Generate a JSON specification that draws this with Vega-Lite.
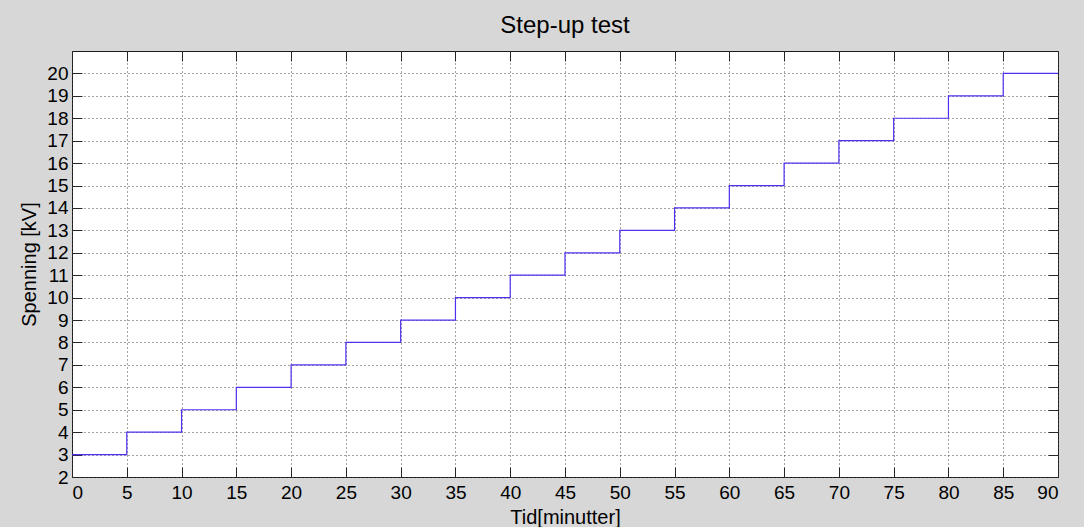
{
  "$schema": "https://vega.github.io/schema/vega-lite/v6.json",
  "width": 986,
  "height": 426,
  "autosize": {"type": "none"},
  "padding": {"left": 72, "top": 51, "right": 26, "bottom": 50},
  "background": "#d7d7d7",
  "title": {"text": "Step-up test", "fontSize": 24, "font": "Liberation Sans", "fontWeight": "normal", "color": "#000000", "offset": 13, "anchor": "middle"},
  "config": {
    "view": {"fill": "white", "stroke": "#1a1a1a", "strokeWidth": 1},
    "axis": {
      "domain": false,
      "tickSize": -10,
      "tickColor": "#262626",
      "labelFont": "Liberation Sans",
      "labelFontSize": 19,
      "labelColor": "#000000",
      "titleFont": "Liberation Sans",
      "titleFontSize": 20,
      "titleFontWeight": "normal",
      "titleColor": "#000000",
      "gridColor": "#444444",
      "gridDash": [1, 3],
      "gridWidth": 1,
      "gridOpacity": 1
    }
  },
  "data": {"values": [
    {"t": 0, "kv": 3}, {"t": 5, "kv": 4}, {"t": 10, "kv": 5}, {"t": 15, "kv": 6},
    {"t": 20, "kv": 7}, {"t": 25, "kv": 8}, {"t": 30, "kv": 9}, {"t": 35, "kv": 10},
    {"t": 40, "kv": 11}, {"t": 45, "kv": 12}, {"t": 50, "kv": 13}, {"t": 55, "kv": 14},
    {"t": 60, "kv": 15}, {"t": 65, "kv": 16}, {"t": 70, "kv": 17}, {"t": 75, "kv": 18},
    {"t": 80, "kv": 19}, {"t": 85, "kv": 20}, {"t": 90, "kv": 20}
  ]},
  "layer": [
    {
      "mark": {"type": "line", "interpolate": "step-after", "color": "#5030f0", "strokeWidth": 1.2},
      "encoding": {
        "x": {"field": "t", "type": "quantitative", "scale": {"domain": [0, 90], "nice": false},
          "axis": {"orient": "bottom", "values": [0,5,10,15,20,25,30,35,40,45,50,55,60,65,70,75,80,85,90], "labelPadding": 16, "title": "Tid[minutter]", "titlePadding": 5, "grid": true}},
        "y": {"field": "kv", "type": "quantitative", "scale": {"domain": [2, 21], "nice": false, "zero": false},
          "axis": {"orient": "left", "values": [2,3,4,5,6,7,8,9,10,11,12,13,14,15,16,17,18,19,20], "labelPadding": 14, "title": "Spenning [kV]", "titlePadding": 7, "grid": true}}
      }
    },
    {
      "mark": {"type": "line", "opacity": 0},
      "encoding": {
        "x": {"field": "t", "type": "quantitative",
          "axis": {"orient": "top", "values": [0,5,10,15,20,25,30,35,40,45,50,55,60,65,70,75,80,85,90], "labels": false, "title": null, "grid": false}},
        "y": {"field": "kv", "type": "quantitative",
          "axis": {"orient": "right", "values": [2,3,4,5,6,7,8,9,10,11,12,13,14,15,16,17,18,19,20], "labels": false, "title": null, "grid": false}}
      }
    }
  ],
  "resolve": {"axis": {"x": "independent", "y": "independent"}}
}
